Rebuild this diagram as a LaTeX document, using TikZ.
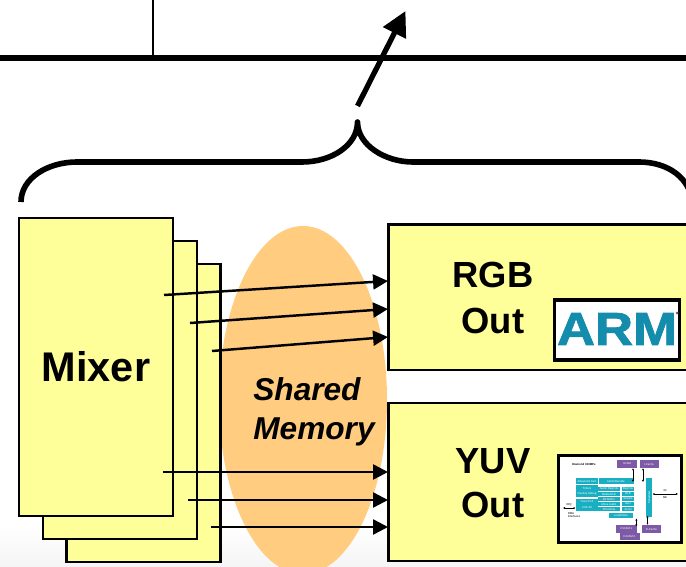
\documentclass[tikz,border=0pt]{standalone}
\usepackage{fontspec}
\setmainfont{Liberation Sans}
\newfontfamily\armfont[FakeBold=1.5]{Liberation Sans Bold}
\usetikzlibrary{arrows.meta}
\definecolor{boxyellow}{RGB}{255,255,153}
\definecolor{memorange}{RGB}{255,204,128}
\definecolor{armteal}{RGB}{20,140,172}
\definecolor{chipteal}{RGB}{25,175,195}
\definecolor{chippurple}{RGB}{125,90,165}
\tikzset{
    mixbox/.style={draw=black, fill=boxyellow, line width=1.5pt, minimum width=3.08cm, minimum height=5.96cm, font=\bfseries\fontsize{23.6}{26}\selectfont},
    outbox/.style={draw=black, fill=boxyellow, line width=1.4pt, outer sep=0pt, anchor=north west, minimum width=6.2cm},
    outlabel/.style={font=\bfseries\fontsize{20.7}{25}\selectfont, align=center},
    flowarrow/.style={line width=1.4pt, -{Triangle[length=8.5pt,width=8.5pt]}},
    chipteal box/.style={fill=chipteal, text=white, inner sep=0pt, font=\fontsize{1.6}{2}\selectfont},
    chippurple box/.style={fill=chippurple, text=white, inner sep=0pt, font=\fontsize{1.6}{2}\selectfont},
    chiptext/.style={inner sep=0pt, font=\fontsize{1.6}{2}\selectfont},
    chipline/.style={line width=0.25pt, {Latex[length=1.2pt,width=1.2pt]}-{Latex[length=1.2pt,width=1.2pt]}}
}
\begin{document}
\begin{tikzpicture}[x=0.02cm, y=-0.02cm]
    \useasboundingbox (0,0) rectangle (686,567);
    \shade[top color=white, bottom color=black!4] (0,525) rectangle (686,567);

    % Bus at the top
    \coordinate (busL) at (0,58);
    \coordinate (busR) at (686,58);
    \coordinate (stubT) at (153,0);
    \coordinate (stubB) at (153,58);
    \draw[line width=3.2pt] (busL) -- (busR);
    \draw[line width=1.2pt] (stubT) -- (stubB);

    % Brace and big arrow
    \draw[line width=3.2pt, line join=round] (21,202) .. controls (21,178) and (48,162) .. (77,162) -- (302,162)
        .. controls (332,162) and (357.5,145) .. (357.5,122) .. controls (357.5,145) and (385,162) .. (413,162)
        -- (639,162) .. controls (668,162) and (690,178) .. (692,202);
    \coordinate (upS) at (357.5,106);
    \coordinate (upE) at (405.5,11);
    \draw[line width=3pt, -{Triangle[length=14pt,width=14pt]}] (upS) -- (upE);

    % Shared memory
    \fill[memorange] (303,400) ellipse (84 and 174);
    \node[font=\bfseries\itshape\fontsize{18}{22.5}\selectfont, align=left, anchor=west, inner sep=0pt] (shared) at (253,412) {Shared\\Memory};

    % Mixer stack
    \node[mixbox] (mixerC) at (143.5,413) {};
    \node[mixbox] (mixerB) at (120,390) {};
    \node[mixbox] (mixerA) at (96,367) {Mixer};

    % RGB Out
    \node[outbox, minimum height=2.91cm] (rgb) at (388.5,224.5) {};
    \node[outlabel] (rgblabel) at (493,298) {RGB\\[1pt]Out};
    \node[draw=black, fill=white, line width=2.1pt, minimum width=2.5cm, minimum height=1.2cm, inner sep=0pt] (armbox) at (617,330) {};
    \node[text=armteal, inner sep=0pt, font=\armfont\fontsize{30}{30}\selectfont] (arm) at (617,329) {\scalebox{1}[0.88]{ARM}};
    \fill[black!60] (677,313) circle (1.5);

    % YUV Out
    \node[outbox, minimum height=3.16cm] (yuv) at (388.5,403) {};
    \node[outlabel] (yuvlabel) at (493,483) {YUV\\Out};

    % Chip block
    \node[draw=black, fill=white, line width=2.1pt, minimum width=2.46cm, minimum height=1.74cm, inner sep=0pt] (chip) at (620,499) {};
    \node[chiptext] (chiptitle) at (584,464) {\bfseries Diamond 330MPe};
    \node[chippurple box, minimum width=0.4cm, minimum height=0.15cm] (iram) at (627,464) {I-RAM};
    \node[chippurple box, minimum width=0.38cm, minimum height=0.15cm] (icache) at (649,464) {I-Cache};
    \foreach \ypos/\name/\txt in {481/xact/Advanced Xact, 488/timers/Timers, 494/debug/Overlay Debug, 502/trace/Trace Port, 508/css/CSS-16}
        \node[chipteal box, minimum width=0.44cm, minimum height=0.12cm] (\name) at (587,\ypos) {\txt};
    \node[chipteal box, minimum width=0.7cm, minimum height=0.12cm] (fetch) at (616,481) {Fetch/Decode};
    \foreach \ypos/\name/\txt in {489/regs/Audio Reg File, 494/media/Media RLE, 499/macs/Bit MACs, 504/audio/Move Audio, 509/dma/Print Dma}
        \node[chipteal box, minimum width=0.43cm, minimum height=0.09cm] (\name) at (609,\ypos) {\txt};
    \foreach \ypos/\name/\txt in {489/rega/Reg File, 494/rle/RLE, 499/stream/Stream, 504/alu/ALU, 509/accel/Accel}
        \node[chipteal box, minimum width=0.25cm, minimum height=0.09cm] (\name) at (628,\ypos) {\txt};
    \node[chipteal box, minimum width=0.12cm, minimum height=0.78cm] (sched) at (649,497.5) {\rotatebox{90}{Scheduler}};
    \node[chipteal box, minimum width=0.48cm, minimum height=0.1cm] (load) at (621,515.5) {Load/Store};
    \node[chippurple box, minimum width=0.42cm, minimum height=0.15cm] (dram) at (626.5,529) {D-RAM 1};
    \node[chippurple box, minimum width=0.38cm, minimum height=0.15cm] (dcache) at (651.5,529) {D-Cache};
    \node[chippurple box, minimum width=0.4cm, minimum height=0.13cm] (dramb) at (629.5,536.5) {D-RAM 2};
    \coordinate (irqL) at (563,508);
    \coordinate (busOut) at (678,494);
    \draw[chipline] (irqL) -- (css.west);
    \draw[chipline] (sched.east) ++(0,-3.5) -- (busOut);
    \draw[chipline] (iram.south) ++(6,0) -- ++(0,14);
    \draw[chipline] (icache.south) ++(-6,0) -- ++(0,14);
    \draw[chipline] (load.east) ++(3,3) -- ++(0,8);
    \draw[chipline] (dcache.north) ++(-4,0) -- ++(0,-9);
    \node[chiptext] (irqtext) at (569,505) {IRQ};
    \node[chiptext, align=left] (dmatext) at (574,515) {DMA\\Interfaces};
    \node[chiptext] (bus32) at (665,491) {32};
    \node[chiptext] (busmb) at (665,497) {Mb};

    % Arrows out of the mixer stack
    \foreach \name/\xa/\ya/\yb in {ra/164/295/281, rb/190/323/309, rc/212/351/337, ya/163/472/472, yb/188/500/500, yc/211/527/527} {
        \coordinate (\name S) at (\xa,\ya);
        \coordinate (\name E) at (388,\yb);
        \draw[flowarrow] (\name S) -- (\name E);
    }
\end{tikzpicture}
\end{document}
